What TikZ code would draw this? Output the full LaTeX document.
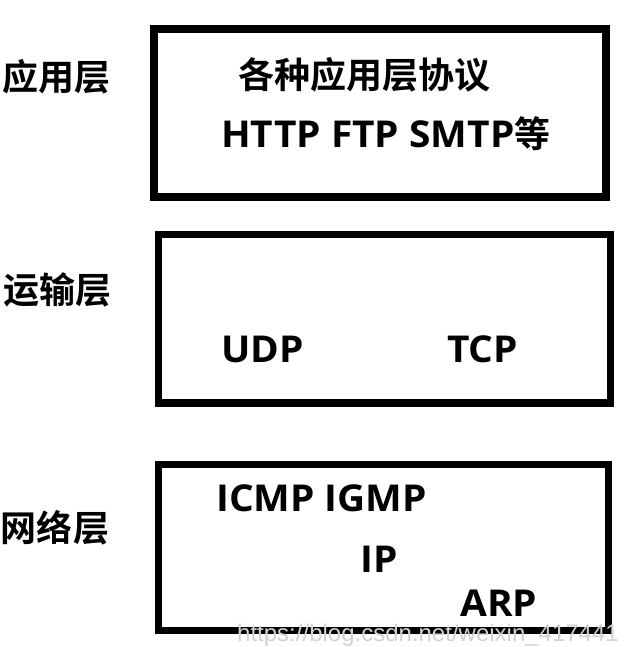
\documentclass[tikz,border=0pt]{standalone}
\usepackage{fontspec}
\newfontfamily\cjk{Noto Sans CJK SC Bold}
\newfontfamily\latin{Open Sans Bold}[FakeStretch=1.05]
\newfontfamily\wmfont{Liberation Sans}
\tikzset{
  layerbox/.style={draw=black, line width=7.5pt},
  lbl/.style={inner sep=0pt, font=\cjk\fontsize{36}{40}\selectfont},
  proto/.style={inner sep=0pt, anchor=base west, font=\latin\fontsize{37}{40}\selectfont}
}
\begin{document}
\begin{tikzpicture}[x=1pt, y=-1pt]
\useasboundingbox (0,0) rectangle (624,647);
\clip (0,0) rectangle (624,647);

% Application layer
\node[lbl] (appLbl) at (56,77)
{应用层};
\draw[layerbox] (154,29) rectangle (606,197);
\node[lbl] (appAll) at (364,75)
{各种应用层协议};
\node[proto] (appProto) at (221,148)
{HTTP FTP SMTP{\cjk\fontsize{36}{40}\selectfont 等}};

% Transport layer
\node[lbl] (transLbl) at (57,290)
{运输层};
\draw[layerbox] (158.5,234.5) rectangle (610.5,403);
\node[proto] (udp) at (221,362)
{UDP};
\node[proto] (tcp) at (447,362)
{TCP};

% Network layer
\node[lbl] (netLbl) at (55,528)
{网络层};
\draw[layerbox] (158.5,464.5) rectangle (608.5,630.5);
\node[proto] (icmp) at (216,511)
{ICMP IGMP};
\node[proto] (ip) at (360,572)
{IP};
\node[proto] (arp) at (460,616)
{ARP};

% Watermark
\node[inner sep=0pt, anchor=base west, text=gray!35,
  font=\wmfont\fontsize{24}{26}\selectfont] (mark) at (237,641)
{https://blog.csdn.net/weixin\_417441};
\end{tikzpicture}
\end{document}
